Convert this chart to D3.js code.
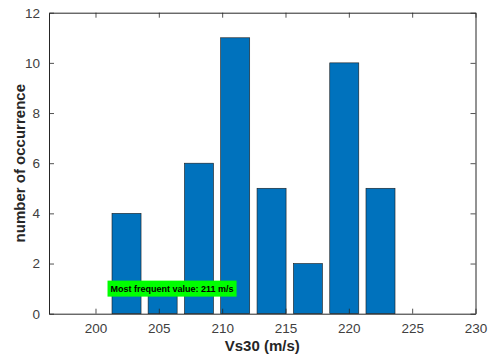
<!DOCTYPE html>
<html><head><meta charset="utf-8">
<script src="https://cdn.jsdelivr.net/npm/d3@7"></script>
<style>body{margin:0;background:#fff}svg{display:block}</style>
</head><body>
<svg id="c" width="496" height="357"></svg>
<script>
const binCenters = [202.45, 205.3, 208.17, 211.03, 213.9, 216.77, 219.64, 222.5];
const counts = [4, 1, 6, 11, 5, 2, 10, 5];
const xTicks = [200, 205, 210, 215, 220, 225, 230];
const yTicks = [0, 2, 4, 6, 8, 10, 12];
const xDomain = [196.33, 230];
const yDomain = [0, 12];
const annotation = {x: 200.95, y: 1, text: "Most frequent value: 211 m/s"};

const svg = d3.select("#c");
const L = 49, R = 475.5, T = 12.7, B = 313.7;
const x = d3.scaleLinear().domain(xDomain).range([L, R]);
const y = d3.scaleLinear().domain(yDomain).range([B, T]);
const binW = (binCenters[binCenters.length-1]-binCenters[0])/(binCenters.length-1);
const barW = binW*0.8;
const axisCol = "#262626";
const font = "'Liberation Sans', Arial, sans-serif";

// bars
svg.append("g").selectAll("rect").data(counts).join("rect")
  .attr("x", (d,i)=>x(binCenters[i]-barW/2))
  .attr("width", (d,i)=>x(binCenters[i]+barW/2)-x(binCenters[i]-barW/2))
  .attr("y", d=>y(d))
  .attr("height", d=>y(0)-y(d))
  .attr("fill", "#0072BD")
  .attr("stroke", "#1a1a1a")
  .attr("stroke-width", 0.6);

// axes
const tickLen = 5;
const gx = svg.append("g").attr("transform", `translate(0,${B})`)
  .call(d3.axisBottom(x).tickValues(xTicks).tickSizeInner(-tickLen).tickSizeOuter(0).tickPadding(10));
const gxt = svg.append("g").attr("transform", `translate(0,${T})`)
  .call(d3.axisTop(x).tickValues(xTicks).tickSizeInner(-tickLen).tickSizeOuter(0).tickFormat(""));
const gy = svg.append("g").attr("transform", `translate(${L},0)`)
  .call(d3.axisLeft(y).tickValues(yTicks).tickSizeInner(-tickLen).tickSizeOuter(0).tickPadding(9));
const gyr = svg.append("g").attr("transform", `translate(${R},0)`)
  .call(d3.axisRight(y).tickValues(yTicks).tickSizeInner(-tickLen).tickSizeOuter(0).tickFormat(""));
[gx,gxt,gy,gyr].forEach(g=>{
  g.select(".domain").attr("stroke", axisCol).attr("stroke-width", 1);
  g.selectAll(".tick line").attr("stroke", axisCol).attr("stroke-width", 0.8);
  g.selectAll(".tick text").attr("fill", "#404040").attr("font-family", font).attr("font-size", 13.5);
});

// annotation
const ag = svg.append("g");
const at = ag.append("text")
  .attr("font-family", font).attr("font-weight", "bold").attr("font-size", 9)
  .attr("fill", "#000").attr("dominant-baseline", "central")
  .attr("x", x(annotation.x)+3).attr("y", y(annotation.y))
  .text(annotation.text);
const bb = at.node().getBBox();
ag.insert("rect", "text")
  .attr("x", x(annotation.x)).attr("y", y(annotation.y)-8)
  .attr("width", bb.width+6).attr("height", 16)
  .attr("fill", "#00FF00");

// labels
svg.append("text").attr("x", (L+R)/2).attr("y", 351)
  .attr("text-anchor", "middle").attr("font-family", font).attr("font-weight", "bold")
  .attr("font-size", 15).attr("fill", "#262626").text("Vs30 (m/s)");
svg.append("text").attr("transform", `translate(25,${(T+B)/2}) rotate(-90)`)
  .attr("text-anchor", "middle").attr("font-family", font).attr("font-weight", "bold")
  .attr("font-size", 15).attr("fill", "#262626").text("number of occurrence");
</script>
</body></html>
